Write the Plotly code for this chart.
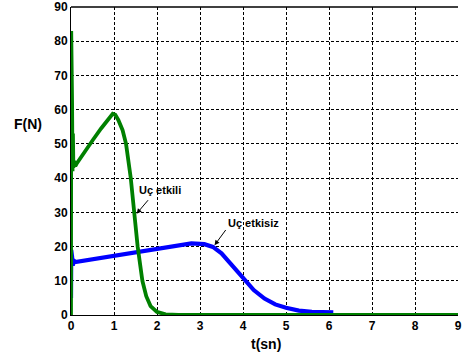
import plotly.graph_objects as go

# Uç etkili (green)
t_etkili = [0, 0.005, 0.015, 0.025, 0.035, 0.045, 0.055, 0.07, 0.1, 0.13, 0.3, 0.5, 0.7,
            0.85, 0.92, 0.97, 1.03, 1.1, 1.2, 1.28, 1.39, 1.47, 1.55, 1.66, 1.75, 1.85,
            2.0, 2.2, 2.5, 9.0]
F_etkili = [0, 83, 40, 62, 42, 53, 43, 45, 43.5, 44.2, 47.5, 51, 54.5,
            57, 58.2, 58.8, 58.5, 57, 54, 50, 40, 30, 20, 10, 5.5, 2.6,
            0.9, 0.2, 0, 0]

# Uç etkisiz (blue)
t_etkisiz = [0, 0.005, 0.015, 0.025, 0.04, 0.07, 0.1, 0.5, 1.0, 1.5, 2.0, 2.4, 2.8, 3.1,
             3.3, 3.5, 3.75, 4.0, 4.25, 4.5, 4.75, 5.0, 5.3, 5.6, 6.1]
F_etkisiz = [5, 19, 12, 17, 14.5, 15.8, 15.5, 16.3, 17.4, 18.5, 19.5, 20.3, 20.9, 20.7,
             19.9, 18, 14.5, 10.7, 7.3, 4.8, 3.1, 2.1, 1.3, 0.9, 0.8]

x_ticks = [0, 1, 2, 3, 4, 5, 6, 7, 8, 9]
y_ticks = [0, 10, 20, 30, 40, 50, 60, 70, 80, 90]

FONT = "Arial, Liberation Sans, sans-serif"

fig = go.Figure()
fig.add_trace(go.Scatter(x=t_etkisiz, y=F_etkisiz, mode="lines",
                         line=dict(color="#0000FF", width=4.2), showlegend=False))
fig.add_trace(go.Scatter(x=t_etkili, y=F_etkili, mode="lines",
                         line=dict(color="#008000", width=3.8), showlegend=False))

axis_common = dict(showline=True, linecolor="black", linewidth=1,
                   showgrid=True, gridcolor="black", gridwidth=1, griddash="3px,2px",
                   zeroline=False, ticks="", ticklabeloverflow="allow",
                   tickfont=dict(family=FONT, size=12, color="black"))

fig.update_xaxes(range=[0, 9], tickvals=x_ticks,
                 ticktext=["<b>%d</b>" % v for v in x_ticks], **axis_common)
fig.update_yaxes(range=[0, 90], tickvals=y_ticks,
                 ticktext=["<b>%d</b>" % v for v in y_ticks], **axis_common)

# top border
fig.add_shape(type="line", xref="paper", yref="paper", x0=0, x1=1, y0=1, y1=1,
              line=dict(color="black", width=1.5))

ann_font = dict(family=FONT, size=11, color="black")
fig.add_annotation(x=2.067, y=36.4, text="<b>Uç etkili</b>", showarrow=False, font=ann_font)
fig.add_annotation(x=4.247, y=26.9, text="<b>Uç etkisiz</b>", showarrow=False, font=ann_font)
fig.add_annotation(x=1.526, y=29.6, ax=12.7, ay=-15, text="", showarrow=True,
                   arrowhead=2, arrowsize=1, arrowwidth=1, arrowcolor="black")
fig.add_annotation(x=3.338, y=20.4, ax=12.3, ay=-16.7, text="", showarrow=True,
                   arrowhead=2, arrowsize=1, arrowwidth=1, arrowcolor="black")

title_font = dict(family=FONT, size=14, color="black")
fig.add_annotation(xref="paper", yref="paper", x=-0.11, y=0.62, text="<b>F(N)</b>",
                   showarrow=False, font=title_font, xanchor="center", yanchor="middle")
fig.add_annotation(xref="paper", yref="paper", x=0.505, y=-0.095, text="<b>t(sn)</b>",
                   showarrow=False, font=title_font, xanchor="center", yanchor="middle")

fig.update_layout(width=462, height=361, autosize=False,
                  margin=dict(l=71, r=0, t=6, b=46),
                  plot_bgcolor="white", paper_bgcolor="white")

fig.write_html("out.html")
